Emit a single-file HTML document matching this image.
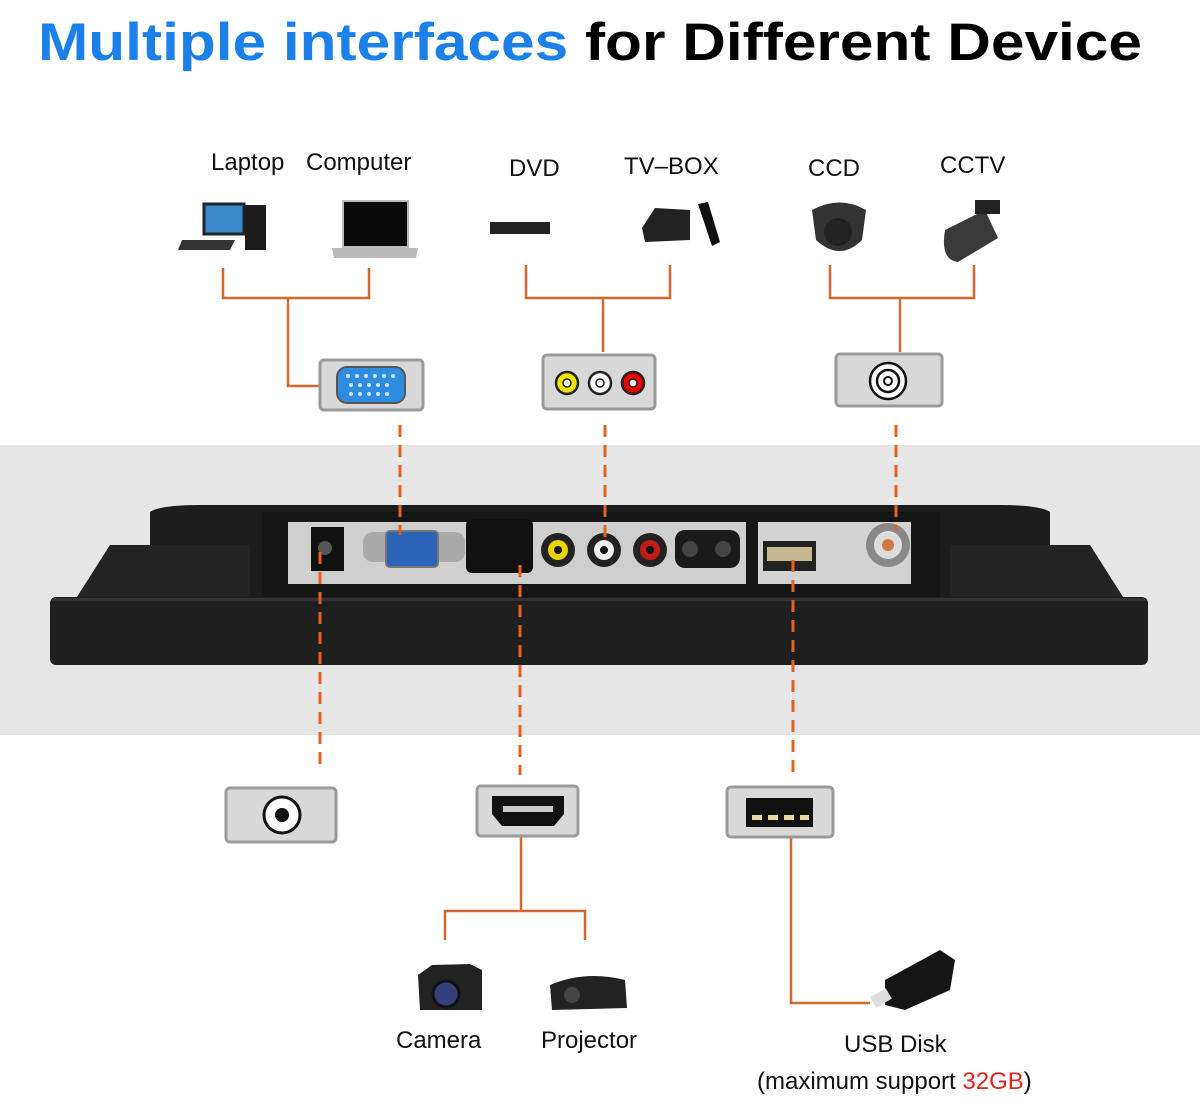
<!DOCTYPE html>
<html><head><meta charset="utf-8"><style>
html,body{margin:0;padding:0;background:#fff;}
svg{display:block;}
text{font-family:"Liberation Sans",sans-serif;}
</style></head><body>
<svg width="1200" height="1104" viewBox="0 0 1200 1104" xmlns="http://www.w3.org/2000/svg">
<rect width="1200" height="1104" fill="#fff"/>
<text x="38" y="60" font-size="53" font-weight="bold" textLength="1104" lengthAdjust="spacingAndGlyphs"><tspan fill="#1b80e8">Multiple interfaces</tspan><tspan fill="#000"> for Different Device</tspan></text>

<!-- gray band -->
<rect x="0" y="445" width="1200" height="290" fill="#e6e6e6"/>
<!-- monitor -->
<path d="M150 512 L262 510 L262 597 L150 597 Z" fill="#1a1a1a"/>
<path d="M940 510 L1050 512 L1050 597 L940 597 Z" fill="#1a1a1a"/>
<path d="M150 512 Q160 505 200 505 L1000 505 Q1040 505 1050 512 L1050 600 L150 600 Z" fill="#1c1c1c"/>
<path d="M110 545 L250 545 L250 600 L75 600 Z" fill="#232323"/>
<path d="M950 545 L1090 545 L1125 600 L950 600 Z" fill="#232323"/>
<rect x="262" y="512" width="678" height="90" fill="#161616"/>
<rect x="50" y="597" width="1098" height="68" rx="6" fill="#1f1f1f"/>
<rect x="52" y="598" width="1094" height="3" fill="#333"/>
<!-- port panels -->
<rect x="288" y="522" width="458" height="62" fill="#cfcfcf"/>
<rect x="758" y="522" width="153" height="62" fill="#d3d3d3"/>
<rect x="311" y="527" width="33" height="44" fill="#111"/>
<circle cx="325" cy="548" r="7" fill="#555"/>
<rect x="363" y="532" width="102" height="30" rx="10" fill="#aaa"/>
<rect x="386" y="531" width="52" height="36" rx="4" fill="#2a63b8" stroke="#777" stroke-width="2"/>
<rect x="466" y="519" width="67" height="54" rx="6" fill="#111"/>
<circle cx="558" cy="550" r="17" fill="#222"/><circle cx="558" cy="550" r="10" fill="#e8d500"/><circle cx="558" cy="550" r="4" fill="#111"/>
<circle cx="604" cy="550" r="17" fill="#222"/><circle cx="604" cy="550" r="10" fill="#eee"/><circle cx="604" cy="550" r="4" fill="#111"/>
<circle cx="650" cy="550" r="17" fill="#222"/><circle cx="650" cy="550" r="10" fill="#c41a1a"/><circle cx="650" cy="550" r="4" fill="#111"/>
<rect x="675" y="530" width="65" height="38" rx="10" fill="#1a1a1a"/>
<circle cx="690" cy="549" r="8" fill="#444"/><circle cx="723" cy="549" r="8" fill="#444"/>
<rect x="763" y="541" width="53" height="30" fill="#222"/><rect x="767" y="547" width="45" height="14" fill="#c8b890"/>
<circle cx="888" cy="545" r="22" fill="#888"/><circle cx="888" cy="545" r="14" fill="#ddd"/><circle cx="888" cy="545" r="6" fill="#d07a40"/>

<!-- top labels -->
<g font-size="24" fill="#111">
<text x="211" y="170">Laptop</text><text x="306" y="170">Computer</text>
<text x="509" y="176">DVD</text><text x="624" y="174">TV–BOX</text>
<text x="808" y="176">CCD</text><text x="940" y="173">CCTV</text>
</g>
<!-- device icons -->
<rect x="204" y="204" width="40" height="30" fill="#3a89c9" stroke="#222" stroke-width="3"/>
<rect x="245" y="205" width="21" height="45" fill="#1c1c1c"/>
<path d="M182 240 L235 240 L230 250 L178 250 Z" fill="#333"/>
<rect x="343" y="201" width="65" height="46" fill="#0a0a0a" stroke="#bbb" stroke-width="2"/>
<path d="M332 248 L418 248 L416 258 L334 258 Z" fill="#bbb"/>
<rect x="490" y="222" width="60" height="12" fill="#222"/>
<path d="M642 228 L655 208 L690 210 L690 240 L645 242 Z" fill="#222"/>
<path d="M698 204 L708 202 L720 242 L712 246 Z" fill="#111"/>
<path d="M812 210 Q840 195 866 210 L862 240 Q840 262 816 240 Z" fill="#333"/>
<circle cx="838" cy="232" r="14" fill="#222"/>
<path d="M945 230 L985 210 L998 238 L958 262 Q940 260 945 230 Z" fill="#3a3a3a"/>
<rect x="975" y="200" width="25" height="14" fill="#222"/>

<!-- connectors -->
<g fill="none" stroke="#d2692f" stroke-width="2.5">
<path d="M223 268 V298 H369 V268 M288 298 V386 H320"/>
<path d="M526 265 V298 H670 V265 M603 298 V352"/>
<path d="M830 265 V298 H974 V265 M900 298 V352"/>
<path d="M521 836 V911 M445 940 V911 H585 V940"/>
<path d="M791 820 V1003 H870"/>
</g>
<g fill="none" stroke="#e5621d" stroke-width="3" stroke-dasharray="12 8">
<path d="M400 425 V535 M605 425 V542 M896 425 V530"/>
<path d="M320 552 V772 M520 565 V775 M793 560 V773"/>
</g>

<!-- connector boxes -->
<g fill="#d8d8d8" stroke="#9a9a9a" stroke-width="3">
<rect x="320" y="360" width="103" height="50" rx="4"/>
<rect x="543" y="355" width="112" height="54" rx="4"/>
<rect x="836" y="354" width="106" height="52" rx="4"/>
<rect x="226" y="788" width="110" height="54" rx="4"/>
<rect x="477" y="786" width="101" height="50" rx="4"/>
<rect x="727" y="787" width="106" height="50" rx="4"/>
</g>
<rect x="337" y="367" width="68" height="36" rx="10" fill="#2f8de0" stroke="#555" stroke-width="2"/>
<g fill="#cfe6ff"><circle cx="348" cy="376" r="2"/><circle cx="357" cy="376" r="2"/><circle cx="366" cy="376" r="2"/><circle cx="375" cy="376" r="2"/><circle cx="384" cy="376" r="2"/><circle cx="393" cy="376" r="2"/>
<circle cx="351" cy="385" r="2"/><circle cx="360" cy="385" r="2"/><circle cx="369" cy="385" r="2"/><circle cx="378" cy="385" r="2"/><circle cx="387" cy="385" r="2"/>
<circle cx="351" cy="394" r="2"/><circle cx="360" cy="394" r="2"/><circle cx="369" cy="394" r="2"/><circle cx="378" cy="394" r="2"/><circle cx="387" cy="394" r="2"/></g>
<circle cx="567" cy="383" r="11" fill="#f2e600" stroke="#222" stroke-width="2.5"/><circle cx="567" cy="383" r="4" fill="#fff" stroke="#222" stroke-width="1.5"/>
<circle cx="600" cy="383" r="11" fill="#fff" stroke="#222" stroke-width="2.5"/><circle cx="600" cy="383" r="4" fill="#fff" stroke="#222" stroke-width="1.5"/>
<circle cx="633" cy="383" r="11" fill="#e00" stroke="#222" stroke-width="2.5"/><circle cx="633" cy="383" r="4" fill="#fff" stroke="#222" stroke-width="1.5"/>
<circle cx="888" cy="381" r="18" fill="#fff" stroke="#111" stroke-width="2.5"/><circle cx="888" cy="381" r="11" fill="#fff" stroke="#111" stroke-width="2.5"/><circle cx="888" cy="381" r="4" fill="#fff" stroke="#111" stroke-width="2"/>
<circle cx="282" cy="815" r="18" fill="#fff" stroke="#111" stroke-width="3"/><circle cx="282" cy="815" r="7" fill="#111"/>
<path d="M492 796 H564 V814 L554 826 H502 L492 814 Z" fill="#111"/>
<rect x="503" y="806" width="50" height="6" fill="#ccc"/>
<rect x="746" y="798" width="67" height="29" fill="#111"/>
<g fill="#e8d8a0"><rect x="752" y="815" width="10" height="5"/><rect x="768" y="815" width="10" height="5"/><rect x="784" y="815" width="10" height="5"/><rect x="800" y="815" width="9" height="5"/></g>

<!-- bottom icons -->
<path d="M418 975 L432 965 L470 964 L482 970 L482 1010 L420 1010 Z" fill="#222"/>
<circle cx="446" cy="994" r="13" fill="#33407a" stroke="#111" stroke-width="3"/>
<path d="M550 985 Q585 970 625 980 L627 1008 L552 1010 Z" fill="#222"/>
<circle cx="572" cy="995" r="8" fill="#444"/>
<path d="M885 980 L940 950 L955 960 L950 990 L905 1010 L885 1005 Z" fill="#151515"/>
<rect x="872" y="992" width="18" height="12" fill="#ddd" transform="rotate(-30 881 998)"/>

<g font-size="24" fill="#111">
<text x="396" y="1048">Camera</text><text x="541" y="1048">Projector</text>
<text x="844" y="1052">USB Disk</text>
<text x="757" y="1089">(maximum support <tspan fill="#e0251f">32GB</tspan>)</text>
</g>
</svg>
</body></html>
